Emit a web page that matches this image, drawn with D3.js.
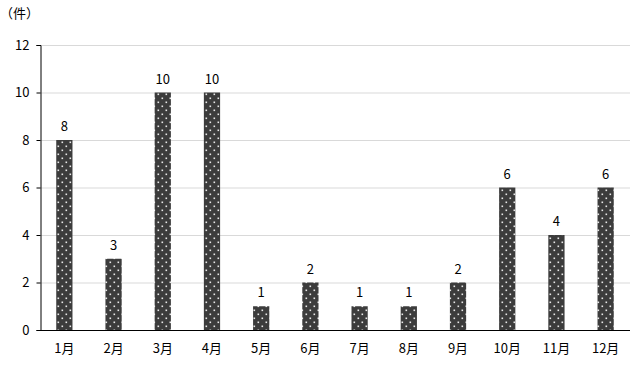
<!DOCTYPE html>
<html>
<head>
<meta charset="utf-8">
<script src="https://cdn.jsdelivr.net/npm/d3@7"></script>
<style>
  body { margin: 0; background: #fff; }
  text { font-family: "Noto Sans CJK JP", "DejaVu Sans", sans-serif; fill: #000; }
</style>
</head>
<body>
<div id="chart"></div>
<script>
// monthly counts
var months = ["1月", "2月", "3月", "4月", "5月", "6月", "7月", "8月", "9月", "10月", "11月", "12月"];
var counts = [8, 3, 10, 10, 1, 2, 1, 1, 2, 6, 4, 6];
var yTicks = [0, 2, 4, 6, 8, 10, 12];
var unitLabel = "（件）";

var width = 640, height = 366;
var margin = { top: 45, right: 10, bottom: 36, left: 40 };

var svg = d3.select("#chart").append("svg")
    .attr("width", width)
    .attr("height", height);

// dotted fill for the bars
var pat = svg.append("defs").append("pattern")
    .attr("id", "dots")
    .attr("patternUnits", "userSpaceOnUse")
    .attr("width", 8)
    .attr("height", 8);
pat.append("rect").attr("width", 8).attr("height", 8).attr("fill", "#3c3c3c");
pat.append("rect").attr("x", 1.5).attr("y", 1.5).attr("width", 1.6).attr("height", 1.6).attr("fill", "#e8e8e8");
pat.append("rect").attr("x", 5.5).attr("y", 5.5).attr("width", 1.6).attr("height", 1.6).attr("fill", "#e8e8e8");

var x = d3.scaleBand()
    .domain(months)
    .range([margin.left, width - margin.right])
    .paddingInner(0.67)
    .paddingOuter(0.33);

var y = d3.scaleLinear()
    .domain([0, 12])
    .range([height - margin.bottom, margin.top]);

// gridlines
svg.append("g").selectAll("line")
    .data(yTicks.filter(function(d) { return d > 0; }))
    .enter().append("line")
    .attr("x1", margin.left)
    .attr("x2", width - margin.right)
    .attr("y1", function(d) { return y(d) + 0.5; })
    .attr("y2", function(d) { return y(d) + 0.5; })
    .attr("stroke", "#d9d9d9")
    .attr("stroke-width", 1);

// bars
svg.append("g").selectAll("rect")
    .data(counts)
    .enter().append("rect")
    .attr("x", function(d, i) { return x(months[i]); })
    .attr("y", function(d) { return y(d); })
    .attr("width", x.bandwidth())
    .attr("height", function(d) { return y(0) - y(d); })
    .attr("fill", "url(#dots)");

// value labels
svg.append("g").selectAll("text")
    .data(counts)
    .enter().append("text")
    .attr("x", function(d, i) { return x(months[i]) + x.bandwidth() / 2; })
    .attr("y", function(d) { return y(d) - 9; })
    .attr("text-anchor", "middle")
    .style("font-size", "13px")
    .text(function(d) { return d; });

// y axis
var yAxis = svg.append("g")
    .attr("transform", "translate(" + (margin.left + 0.5) + ",0)")
    .call(d3.axisLeft(y).tickValues(yTicks).tickSize(4).tickPadding(7));
yAxis.select(".domain").attr("stroke", "#000");
yAxis.selectAll(".tick line").attr("stroke", "#000");
yAxis.selectAll(".tick text").style("font-size", "13px");

// x axis
var xAxis = svg.append("g")
    .attr("transform", "translate(0," + (y(0) + 0.5) + ")")
    .call(d3.axisBottom(x).tickSize(0).tickPadding(13));
xAxis.select(".domain").attr("stroke", "#000").attr("d", "M" + margin.left + ",0H" + (width - margin.right));
xAxis.selectAll(".tick text").style("font-size", "13px");

svg.append("text")
    .attr("x", 0)
    .attr("y", 18)
    .style("font-size", "13px")
    .text(unitLabel);
</script>
</body>
</html>
